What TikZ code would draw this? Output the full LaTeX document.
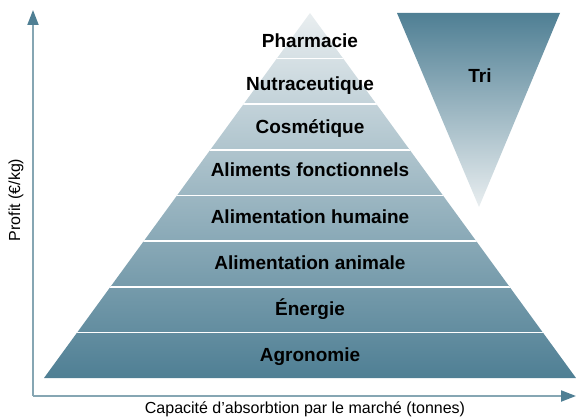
\documentclass[tikz,border=0pt]{standalone}
\usepackage{fontspec}
\setmainfont{Liberation Sans}
\usetikzlibrary{arrows.meta}
\definecolor{darkteal}{HTML}{4F7F94}
\definecolor{paleteal}{HTML}{E9EEF0}
\definecolor{axisline}{HTML}{86A6B3}
\begin{document}
\begin{tikzpicture}[x=1pt, y=-1pt,
	level/.style={font=\bfseries\fontsize{19}{21}\selectfont, inner sep=0pt, anchor=base},
	axis/.style={line width=2pt, axisline, -{Triangle[length=15pt, width=11pt, color=darkteal, fill=darkteal]}},
	axislabel/.style={font=\fontsize{16}{18}\selectfont, inner sep=0pt}]
	\useasboundingbox (0,0) rectangle (576,417);
	% Pyramid
	\coordinate (apex) at (310,13);
	\coordinate (baseL) at (44,378);
	\coordinate (baseR) at (576,378);
	\shade [top color=paleteal, bottom color=darkteal] (apex) -- (baseR) -- (baseL) -- cycle;
	% Levels
	\begin{scope}
		\clip (apex) -- (baseR) -- (baseL) -- cycle;
		\foreach \i in {1, ..., 7} {
			\draw [white, line width=1.6pt] (0,13+\i*45.625) -- (576,13+\i*45.625);
		}
	\end{scope}
	% Labels
	\foreach \n/\y/\txt in {1/48/Pharmacie, 2/91/Nutraceutique, 3/134/Cosmétique,
		4/177/Aliments fonctionnels, 5/223/Alimentation humaine,
		6/269/Alimentation animale, 7/315/Énergie, 8/361/Agronomie} {
		\node [level] (lvl\n) at (310,\y) {\txt};
	}
	% Tri
	\coordinate (triL) at (397,13);
	\coordinate (triR) at (560,13);
	\coordinate (triB) at (479,207);
	\shade [top color=darkteal, bottom color=paleteal] (triL) -- (triR) -- (triB) -- cycle;
	\node [level] (tri) at (480,83) {Tri};
	% Axes
	\coordinate (origin) at (33,396);
	\coordinate (ytop) at (33,10);
	\coordinate (xend) at (576,396);
	\draw [axis] (origin) -- (ytop);
	\draw [axis] (origin) -- (xend);
	\node [axislabel, rotate=90] (ylab) at (16,200) {Profit (€/kg)};
	\node [axislabel] (xlab) at (305,409) {Capacité d’absorbtion par le marché (tonnes)};
\end{tikzpicture}
\end{document}
